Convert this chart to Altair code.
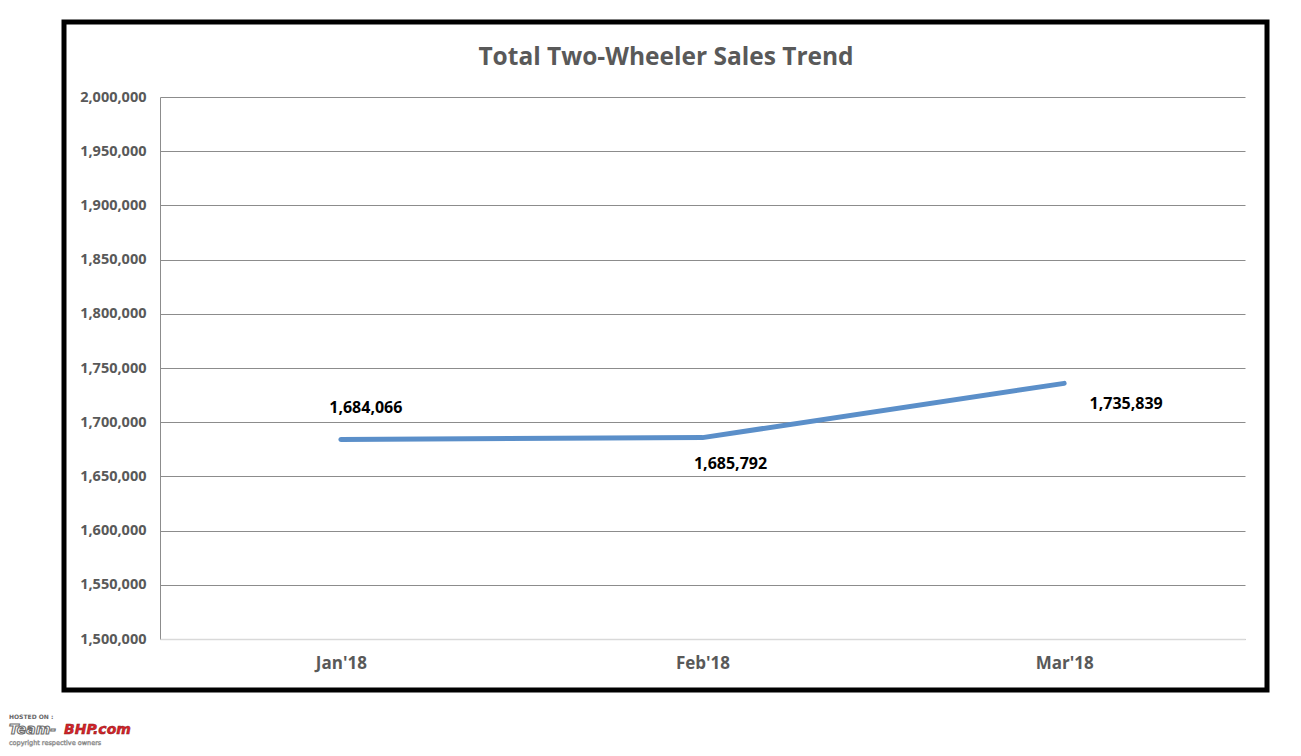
import altair as alt
import pandas as pd

months = ["Jan'18", "Feb'18", "Mar'18"]
sales = [1684066, 1685792, 1735839]
label_pos = ["above", "below", "right"]
y_ticks = [1500000, 1550000, 1600000, 1650000, 1700000, 1750000,
           1800000, 1850000, 1900000, 1950000, 2000000]
title_text = "Total Two-Wheeler Sales Trend"

df = pd.DataFrame({"month": months, "sales": sales, "pos": label_pos})
df["label"] = [f"{v:,}" for v in sales]

W, H = 1085, 542
FONT = "Open Sans"
X0, Y0 = 160, 97  # page position of plot origin

xenc = alt.X("month:N", sort=months, title=None,
             scale=alt.Scale(padding=0.5),
             axis=alt.Axis(labelAngle=0, labelFont=FONT, labelFontSize=17,
                           labelFontWeight="bold", labelColor="#595959",
                           labelPadding=16, ticks=False, domainColor="#d9d9d9",
                           domainWidth=1.5, zindex=1))
yenc = alt.Y("sales:Q", title=None,
             scale=alt.Scale(domain=[1500000, 2000000], nice=False, zero=False),
             axis=alt.Axis(values=y_ticks, format=",d", labelFont=FONT,
                           labelFontSize=14.5, labelFontWeight="bold",
                           labelColor="#595959", labelPadding=14, ticks=False,
                           grid=True, gridColor="#8c8c8c", gridWidth=1,
                           domainColor="#8c8c8c"))

base = alt.Chart(df)

line = base.mark_line(color="#5b8fc9", strokeWidth=5, strokeCap="round",
                      strokeJoin="round").encode(x=xenc, y=yenc)

def lbl(pos, dx, dy):
    return base.transform_filter(alt.datum.pos == pos).mark_text(
        font=FONT, fontSize=16, fontWeight="bold", color="#000000",
        dx=dx, dy=dy).encode(x=xenc, y=yenc, text="label:N")

labels = lbl("above", 25, -31) + lbl("below", 28, 26) + lbl("right", 62, 21)

frame = alt.Chart(pd.DataFrame({"a": [0]})).mark_rect(
    fill=None, stroke="#000000", strokeWidth=5).encode(
    x=alt.value(64 - X0), x2=alt.value(1267 - X0),
    y=alt.value(22 - Y0), y2=alt.value(690 - Y0))

title = alt.Chart(pd.DataFrame({"t": [title_text]})).mark_text(
    font=FONT, fontSize=24.5, fontWeight="bold", color="#595959",
    align="center", baseline="middle").encode(
    x=alt.value(666 - X0), y=alt.value(58 - Y0), text="t:N")

wm1 = alt.Chart(pd.DataFrame({"t": ["HOSTED ON :"]})).mark_text(
    font="DejaVu Sans", fontSize=6, fontWeight="bold", color="#666666", align="left",
    baseline="middle").encode(x=alt.value(9 - X0), y=alt.value(717 - Y0), text="t:N")
wm2 = alt.Chart(pd.DataFrame({"t": ["Team-"]})).mark_text(
    font="DejaVu Sans", fontSize=14, fontWeight="bold", fontStyle="italic",
    color="#ffffff", stroke="#6e6e6e", strokeWidth=1.1, align="left",
    baseline="middle").encode(
    x=alt.value(9 - X0), y=alt.value(730 - Y0), text="t:N")
wm3 = alt.Chart(pd.DataFrame({"t": ["BHP.com"]})).mark_text(
    font="DejaVu Sans", fontSize=14, fontWeight="bold", fontStyle="italic",
    color="#d8232a", stroke="#8a1818", strokeWidth=0.5, align="left",
    baseline="middle").encode(
    x=alt.value(64 - X0), y=alt.value(730 - Y0), text="t:N")
wm4 = alt.Chart(pd.DataFrame({"t": ["copyright respective owners"]})).mark_text(
    font="DejaVu Sans", fontSize=6.5, color="#ffffff", stroke="#8a8a8a",
    strokeWidth=0.5, align="left",
    baseline="middle").encode(x=alt.value(9 - X0), y=alt.value(743 - Y0), text="t:N")

chart = alt.layer(line, labels, frame, title, wm1, wm2, wm3, wm4).properties(
    width=W, height=H,
    padding={"left": X0 - 8, "top": Y0 - 8, "right": 30, "bottom": 108},
    autosize=alt.AutoSizeParams(type="none"),
    background="#ffffff",
).configure_view(stroke=None)

chart.save("out.html", embed_options={"renderer": "svg", "actions": False})
